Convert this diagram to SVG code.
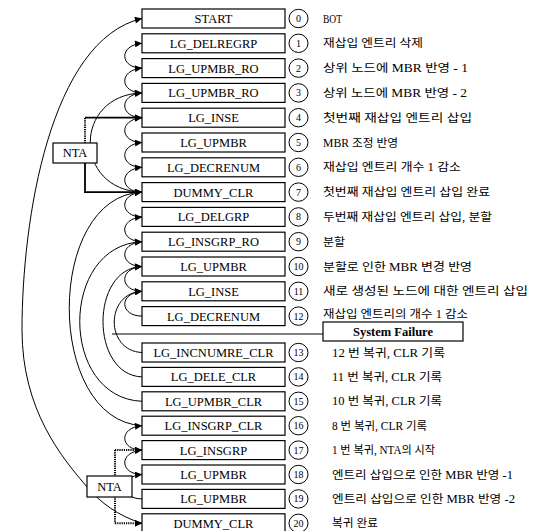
<svg xmlns="http://www.w3.org/2000/svg" width="539" height="531" viewBox="0 0 539 531">
<style>
.bx{fill:#fff;stroke:#000;stroke-width:1.2}
.lb{font-family:"Liberation Serif",serif;font-size:12.5px;text-anchor:middle;fill:#000}
.nc{fill:#fff;stroke:#000;stroke-width:1}
.nt{font-family:"Liberation Serif",serif;font-size:10px;text-anchor:middle;fill:#000}
.ds{font-family:"Liberation Serif","Noto Sans CJK KR",sans-serif;font-size:11.5px;fill:#000}
.cn{fill:none;stroke:#000;stroke-width:1}
.nta{fill:none;stroke:#000;stroke-width:1.8}
.dot{fill:none;stroke:#000;stroke-width:2;stroke-dasharray:1.2 1}
</style>
<defs>
<marker id="ah" viewBox="0 0 10 10" refX="10" refY="5" markerWidth="9" markerHeight="7" orient="auto" markerUnits="userSpaceOnUse"><path d="M0,0 L10,5 L0,10 z" fill="#000"/></marker>
</defs>
<g id="connectors">
<path class="cn" marker-end="url(#ah)" d="M142,68.1 C120,68.1 118,45.3 142,43.3"/>
<path class="cn" marker-end="url(#ah)" d="M142,92.9 C120,92.9 118,70.1 142,68.1"/>
<path class="cn" marker-end="url(#ah)" d="M142,117.7 C120,117.7 118,94.9 142,92.9"/>
<path class="cn" marker-end="url(#ah)" d="M142,142.5 C120,142.5 118,119.7 142,117.7"/>
<path class="cn" marker-end="url(#ah)" d="M142,167.3 C120,167.3 118,144.5 142,142.5"/>
<path class="cn" marker-end="url(#ah)" d="M142,192.1 C120,192.1 118,169.3 142,167.3"/>
<path class="cn" marker-end="url(#ah)" d="M142,216.9 C120,216.9 118,194.1 142,192.1"/>
<path class="cn" marker-end="url(#ah)" d="M142,241.7 C120,241.7 118,218.9 142,216.9"/>
<path class="cn" marker-end="url(#ah)" d="M142,266.5 C120,266.5 118,243.7 142,241.7"/>
<path class="cn" marker-end="url(#ah)" d="M142,291.3 C120,291.3 118,268.5 142,266.5"/>
<path class="cn" marker-end="url(#ah)" d="M142,316.1 C120,316.1 118,293.3 142,291.3"/>
<path class="cn" marker-end="url(#ah)" d="M142,450.1 C120,450.1 118,427.7 142,425.7"/>
<path class="cn" marker-end="url(#ah)" d="M142,474.5 C120,474.5 118,452.1 142,450.1"/>
<path class="cn" marker-end="url(#ah)" d="M142,498.9 C120,498.9 118,476.5 142,474.5"/>
<path class="cn" marker-end="url(#ah)" d="M142,192.1 C73,190 73,95 142,92.9"/>
<path class="cn" marker-end="url(#ah)" d="M142,352.5 C105,351 105,293 142,291.3"/>
<path class="cn" marker-end="url(#ah)" d="M142,376.9 C90,375 90,268 142,266.5"/>
<path class="cn" marker-end="url(#ah)" d="M142,401.3 C59,398 59,245 142,241.7"/>
<path class="cn" marker-end="url(#ah)" d="M142,425.7 C45,420 45,196 142,192.1"/>
<path class="cn" marker-end="url(#ah)" d="M142,523.3 C118,516 100,502 88,488 C62,458 22,410 22,330 C22,220 50,40 142,18.5"/>
<path class="cn" stroke-width="1.5" d="M112,334 H323"/>
<path class="nta" marker-end="url(#ah)" d="M85,117.7 H142"/>
<path class="dot" d="M85,118 V145"/>
<path class="nta" marker-end="url(#ah)" d="M85,162 V192.1 H142"/>
<path class="dot" marker-end="url(#ah)" d="M115,450.1 H142"/>
<path class="dot" d="M115,450.1 V523.3"/>
<path class="dot" marker-end="url(#ah)" d="M115,523.3 H142"/>
</g>
<g id="nta1"><rect class="bx" x="53" y="143" width="44" height="20"/><text class="lb" font-size="11" x="75" y="157">NTA</text></g>
<g id="nta2"><rect class="bx" x="87" y="476" width="45" height="21"/><text class="lb" font-size="11" x="109.5" y="490.5">NTA</text></g>
<g id="sysfail"><rect class="bx" x="323" y="322" width="140" height="19"/><text class="lb" font-weight="bold" font-size="12" x="393" y="335.5">System Failure</text></g>
<g id="n0"><rect class="bx" x="142" y="9" width="143" height="19"/><text class="lb" x="213.5" y="23">START</text><ellipse class="nc" cx="298.5" cy="18.5" rx="9.5" ry="9.2"/><text class="nt" x="298.5" y="22">0</text><text class="ds" x="323" y="22.5" textLength="19" lengthAdjust="spacingAndGlyphs">BOT</text></g>
<g id="n1"><rect class="bx" x="142" y="33.8" width="143" height="19"/><text class="lb" x="213.5" y="47.8">LG_DELREGRP</text><ellipse class="nc" cx="298.5" cy="43.3" rx="9.5" ry="9.2"/><text class="nt" x="298.5" y="46.8">1</text><text class="ds" x="323" y="47.3" textLength="100" lengthAdjust="spacingAndGlyphs">재삽입 엔트리 삭제</text></g>
<g id="n2"><rect class="bx" x="142" y="58.6" width="143" height="19"/><text class="lb" x="213.5" y="72.6">LG_UPMBR_RO</text><ellipse class="nc" cx="298.5" cy="68.1" rx="9.5" ry="9.2"/><text class="nt" x="298.5" y="71.6">2</text><text class="ds" x="323" y="72.1" textLength="145" lengthAdjust="spacingAndGlyphs">상위 노드에 MBR 반영 - 1</text></g>
<g id="n3"><rect class="bx" x="142" y="83.4" width="143" height="19"/><text class="lb" x="213.5" y="97.4">LG_UPMBR_RO</text><ellipse class="nc" cx="298.5" cy="92.9" rx="9.5" ry="9.2"/><text class="nt" x="298.5" y="96.4">3</text><text class="ds" x="323" y="96.9" textLength="144" lengthAdjust="spacingAndGlyphs">상위 노드에 MBR 반영 - 2</text></g>
<g id="n4"><rect class="bx" x="142" y="108.2" width="143" height="19"/><text class="lb" x="213.5" y="122.2">LG_INSE</text><ellipse class="nc" cx="298.5" cy="117.7" rx="9.5" ry="9.2"/><text class="nt" x="298.5" y="121.2">4</text><text class="ds" x="323" y="121.7" textLength="149" lengthAdjust="spacingAndGlyphs">첫번째 재삽입 엔트리 삽입</text></g>
<g id="n5"><rect class="bx" x="142" y="133" width="143" height="19"/><text class="lb" x="213.5" y="147">LG_UPMBR</text><ellipse class="nc" cx="298.5" cy="142.5" rx="9.5" ry="9.2"/><text class="nt" x="298.5" y="146">5</text><text class="ds" x="323" y="146.5" textLength="75" lengthAdjust="spacingAndGlyphs">MBR 조정 반영</text></g>
<g id="n6"><rect class="bx" x="142" y="157.8" width="143" height="19"/><text class="lb" x="213.5" y="171.8">LG_DECRENUM</text><ellipse class="nc" cx="298.5" cy="167.3" rx="9.5" ry="9.2"/><text class="nt" x="298.5" y="170.8">6</text><text class="ds" x="323" y="171.3" textLength="138" lengthAdjust="spacingAndGlyphs">재삽입 엔트리 개수 1 감소</text></g>
<g id="n7"><rect class="bx" x="142" y="182.6" width="143" height="19"/><text class="lb" x="213.5" y="196.6">DUMMY_CLR</text><ellipse class="nc" cx="298.5" cy="192.1" rx="9.5" ry="9.2"/><text class="nt" x="298.5" y="195.6">7</text><text class="ds" x="323" y="196.1" textLength="167" lengthAdjust="spacingAndGlyphs">첫번째 재삽입 엔트리 삽입 완료</text></g>
<g id="n8"><rect class="bx" x="142" y="207.4" width="143" height="19"/><text class="lb" x="213.5" y="221.4">LG_DELGRP</text><ellipse class="nc" cx="298.5" cy="216.9" rx="9.5" ry="9.2"/><text class="nt" x="298.5" y="220.4">8</text><text class="ds" x="323" y="220.9" textLength="169" lengthAdjust="spacingAndGlyphs">두번째 재삽입 엔트리 삽입, 분할</text></g>
<g id="n9"><rect class="bx" x="142" y="232.2" width="143" height="19"/><text class="lb" x="213.5" y="246.2">LG_INSGRP_RO</text><ellipse class="nc" cx="298.5" cy="241.7" rx="9.5" ry="9.2"/><text class="nt" x="298.5" y="245.2">9</text><text class="ds" x="323" y="245.7" textLength="22" lengthAdjust="spacingAndGlyphs">분할</text></g>
<g id="n10"><rect class="bx" x="142" y="257" width="143" height="19"/><text class="lb" x="213.5" y="271">LG_UPMBR</text><ellipse class="nc" cx="298.5" cy="266.5" rx="9.5" ry="9.2"/><text class="nt" x="298.5" y="270">10</text><text class="ds" x="323" y="270.5" textLength="149" lengthAdjust="spacingAndGlyphs">분할로 인한 MBR 변경 반영</text></g>
<g id="n11"><rect class="bx" x="142" y="281.8" width="143" height="19"/><text class="lb" x="213.5" y="295.8">LG_INSE</text><ellipse class="nc" cx="298.5" cy="291.3" rx="9.5" ry="9.2"/><text class="nt" x="298.5" y="294.8">11</text><text class="ds" x="323" y="295.3" textLength="205" lengthAdjust="spacingAndGlyphs">새로 생성된 노드에 대한 엔트리 삽입</text></g>
<g id="n12"><rect class="bx" x="142" y="306.6" width="143" height="19"/><text class="lb" x="213.5" y="320.6">LG_DECRENUM</text><ellipse class="nc" cx="298.5" cy="316.1" rx="9.5" ry="9.2"/><text class="nt" x="298.5" y="319.6">12</text><text class="ds" x="323" y="318" textLength="145" lengthAdjust="spacingAndGlyphs">재삽입 엔트리의 개수 1 감소</text></g>
<g id="n13"><rect class="bx" x="142" y="343" width="143" height="19"/><text class="lb" x="213.5" y="357">LG_INCNUMRE_CLR</text><ellipse class="nc" cx="298.5" cy="352.5" rx="9.5" ry="9.2"/><text class="nt" x="298.5" y="356">13</text><text class="ds" x="332" y="356.5" textLength="113" lengthAdjust="spacingAndGlyphs">12 번 복귀, CLR 기록</text></g>
<g id="n14"><rect class="bx" x="142" y="367.4" width="143" height="19"/><text class="lb" x="213.5" y="381.4">LG_DELE_CLR</text><ellipse class="nc" cx="298.5" cy="376.9" rx="9.5" ry="9.2"/><text class="nt" x="298.5" y="380.4">14</text><text class="ds" x="332" y="380.9" textLength="110" lengthAdjust="spacingAndGlyphs">11 번 복귀, CLR 기록</text></g>
<g id="n15"><rect class="bx" x="142" y="391.8" width="143" height="19"/><text class="lb" x="213.5" y="405.8">LG_UPMBR_CLR</text><ellipse class="nc" cx="298.5" cy="401.3" rx="9.5" ry="9.2"/><text class="nt" x="298.5" y="404.8">15</text><text class="ds" x="332" y="405.3" textLength="110" lengthAdjust="spacingAndGlyphs">10 번 복귀, CLR 기록</text></g>
<g id="n16"><rect class="bx" x="142" y="416.2" width="143" height="19"/><text class="lb" x="213.5" y="430.2">LG_INSGRP_CLR</text><ellipse class="nc" cx="298.5" cy="425.7" rx="9.5" ry="9.2"/><text class="nt" x="298.5" y="429.2">16</text><text class="ds" x="332" y="429.7" textLength="95" lengthAdjust="spacingAndGlyphs">8 번 복귀, CLR 기록</text></g>
<g id="n17"><rect class="bx" x="142" y="440.6" width="143" height="19"/><text class="lb" x="213.5" y="454.6">LG_INSGRP</text><ellipse class="nc" cx="298.5" cy="450.1" rx="9.5" ry="9.2"/><text class="nt" x="298.5" y="453.6">17</text><text class="ds" x="332" y="454.1" textLength="103" lengthAdjust="spacingAndGlyphs">1 번 복귀, NTA의 시작</text></g>
<g id="n18"><rect class="bx" x="142" y="465" width="143" height="19"/><text class="lb" x="213.5" y="479">LG_UPMBR</text><ellipse class="nc" cx="298.5" cy="474.5" rx="9.5" ry="9.2"/><text class="nt" x="298.5" y="478">18</text><text class="ds" x="332" y="478.5" textLength="181" lengthAdjust="spacingAndGlyphs">엔트리 삽입으로 인한 MBR 반영 -1</text></g>
<g id="n19"><rect class="bx" x="142" y="489.4" width="143" height="19"/><text class="lb" x="213.5" y="503.4">LG_UPMBR</text><ellipse class="nc" cx="298.5" cy="498.9" rx="9.5" ry="9.2"/><text class="nt" x="298.5" y="502.4">19</text><text class="ds" x="332" y="502.9" textLength="183" lengthAdjust="spacingAndGlyphs">엔트리 삽입으로 인한 MBR 반영 -2</text></g>
<g id="n20"><rect class="bx" x="142" y="513.8" width="143" height="19"/><text class="lb" x="213.5" y="527.8">DUMMY_CLR</text><ellipse class="nc" cx="298.5" cy="523.3" rx="9.5" ry="9.2"/><text class="nt" x="298.5" y="526.8">20</text><text class="ds" x="332" y="527.3" textLength="46" lengthAdjust="spacingAndGlyphs">복귀 완료</text></g>
</svg>
